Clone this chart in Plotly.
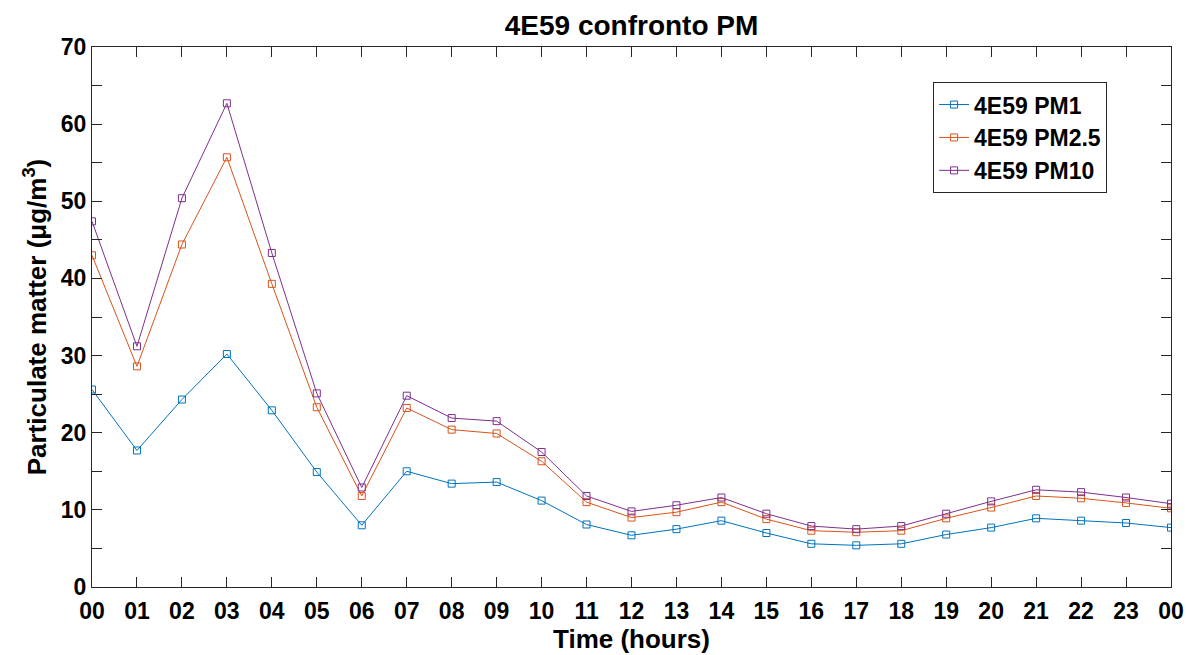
import plotly.graph_objects as go

hours = list(range(25))
hour_labels = ["00", "01", "02", "03", "04", "05", "06", "07", "08", "09", "10", "11",
               "12", "13", "14", "15", "16", "17", "18", "19", "20", "21", "22", "23", "00"]

pm1 = [25.6, 17.7, 24.3, 30.2, 22.9, 14.9, 8.0, 15.0, 13.4, 13.6, 11.2, 8.1,
       6.7, 7.5, 8.6, 7.0, 5.6, 5.4, 5.6, 6.8, 7.7, 8.9, 8.6, 8.3, 7.7]
pm25 = [43.0, 28.6, 44.4, 55.7, 39.3, 23.3, 11.8, 23.2, 20.4, 19.9, 16.3, 11.0,
        9.0, 9.7, 11.0, 8.8, 7.3, 7.1, 7.3, 8.9, 10.3, 11.8, 11.5, 10.9, 10.2]
pm10 = [47.4, 31.2, 50.4, 62.7, 43.3, 25.1, 12.9, 24.8, 21.9, 21.5, 17.5, 11.8,
        9.8, 10.6, 11.6, 9.5, 7.9, 7.5, 7.9, 9.5, 11.1, 12.6, 12.3, 11.6, 10.8]

series_names = ["4E59 PM1", "4E59 PM2.5", "4E59 PM10"]
series_colors = ["#0072BD", "#D95319", "#7E2F8E"]

y_tickvals = [0, 5, 10, 15, 20, 25, 30, 35, 40, 45, 50, 55, 60, 65, 70]
y_ticktext = ["0", "", "10", "", "20", "", "30", "", "40", "", "50", "", "60", "", "70"]

FONT = "Liberation Sans"

fig = go.Figure()
for name, vals, col in zip(series_names, [pm1, pm25, pm10], series_colors):
    fig.add_trace(go.Scatter(
        x=hours, y=vals, name=name, mode="lines+markers",
        line=dict(color=col, width=1),
        marker=dict(symbol="square-open", size=7, color=col, line=dict(width=1)),
    ))

axis_common = dict(
    showline=True, linecolor="#262626", linewidth=1, mirror="ticks",
    ticks="inside", ticklen=10, tickcolor="#262626", tickwidth=1,
    showgrid=False, zeroline=False, automargin=False,
    tickfont=dict(family=FONT, size=23, color="black", weight="bold"),
)

fig.update_layout(
    width=1186, height=655,
    margin=dict(l=92, r=15, t=47, b=68),
    paper_bgcolor="white", plot_bgcolor="white",
    title=dict(text="<b>4E59 confronto PM</b>", x=0.5, xref="paper", xanchor="center",
               y=1 - 25 / 655, yref="container", yanchor="middle",
               font=dict(family=FONT, size=28, color="black")),
    xaxis=dict(range=[0, 24], tickvals=hours, ticktext=hour_labels,
               ticklabelstandoff=3,
               title=dict(text="<b>Time (hours)</b>", standoff=0,
                          font=dict(family=FONT, size=26, color="black")),
               **axis_common),
    yaxis=dict(range=[0, 70], tickvals=y_tickvals, ticktext=y_ticktext,
               title=dict(text="<b>Particulate matter (μg/m<sup>3</sup>)</b>", standoff=6,
                          font=dict(family=FONT, size=26, color="black")),
               **axis_common),
    legend=dict(x=0.7795, y=0.935, xanchor="left", yanchor="top",
                bordercolor="#262626", borderwidth=1, bgcolor="white",
                font=dict(family=FONT, size=23, color="black", weight="bold"),
                tracegroupgap=0),
    showlegend=True,
)

fig.write_html("out.html")
